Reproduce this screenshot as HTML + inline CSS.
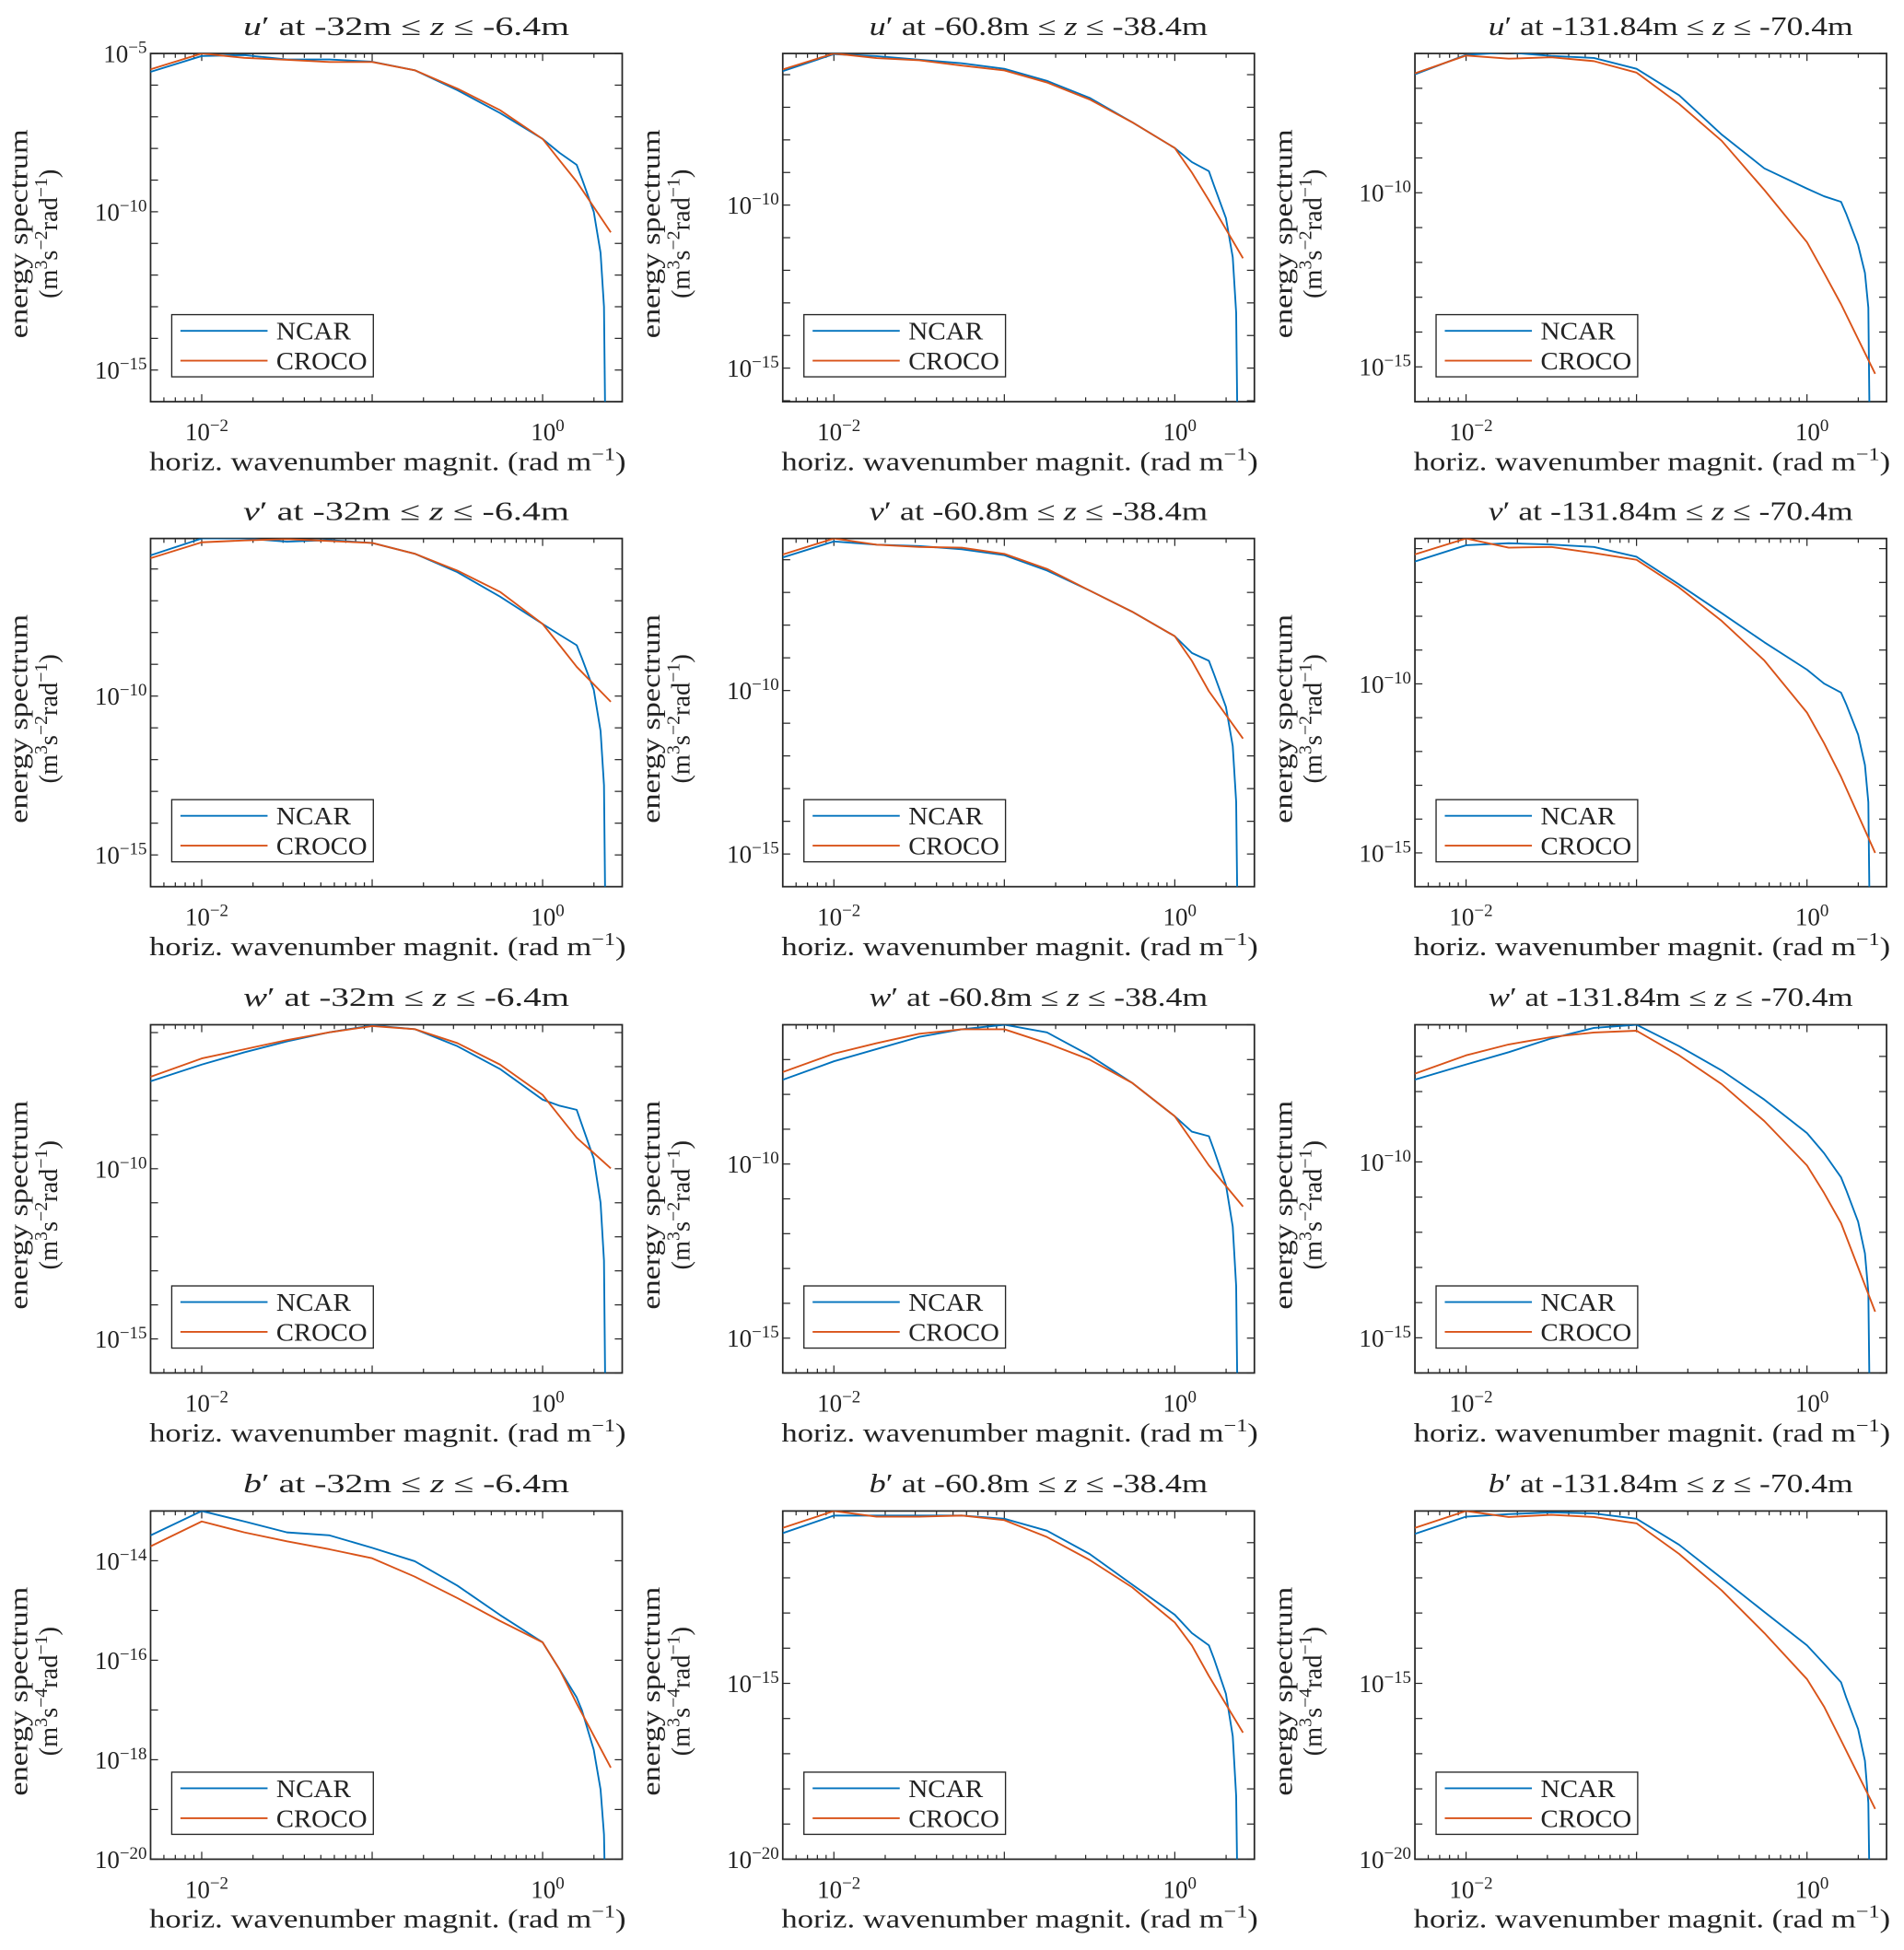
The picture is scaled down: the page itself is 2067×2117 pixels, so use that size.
<!DOCTYPE html>
<html><head><meta charset="utf-8"><style>
html,body{margin:0;padding:0;background:#fff}
svg{display:block}
text{font-family:"Liberation Serif",serif;fill:#222}
</style></head><body>
<svg id="fig" width="2067" height="2117" viewBox="0 0 1530 1568" preserveAspectRatio="none" xmlns="http://www.w3.org/2000/svg"></svg>
<script>
// shared wavenumber grids (log10 rad/m)
const kNcar = [-2.3,-2,-1.75,-1.5,-1.25,-1,-0.75,-0.5,-0.25,0,0.1,0.2,0.23,0.3,0.34,0.36,0.37];
const kCroco = [-2.3,-2,-1.75,-1.5,-1.25,-1,-0.75,-0.5,-0.25,0,0.1,0.2,0.4];
// log10 energy spectrum values, per panel
const ncarU1 = [-5.58,-5.08,-5.05,-5.19,-5.19,-5.26,-5.53,-6.16,-6.88,-7.7,-8.14,-8.52,-8.95,-10.0,-11.3,-13.0,-30];
const crocoU1 = [-5.5,-5.0,-5.14,-5.2,-5.27,-5.27,-5.53,-6.11,-6.79,-7.7,-8.38,-9.05,-10.65];
const ncarU2 = [-5.89,-5.37,-5.43,-5.54,-5.65,-5.82,-6.19,-6.71,-7.46,-8.25,-8.68,-8.96,-9.4,-10.4,-11.6,-13.3,-30];
const crocoU2 = [-5.84,-5.35,-5.49,-5.56,-5.72,-5.87,-6.24,-6.76,-7.46,-8.25,-9.0,-9.85,-11.63];
const ncarU3 = [-6.6,-6.04,-5.97,-6.07,-6.13,-6.44,-7.2,-8.33,-9.3,-9.88,-10.1,-10.26,-10.6,-11.5,-12.3,-13.3,-30];
const crocoU3 = [-6.57,-6.06,-6.15,-6.11,-6.22,-6.55,-7.45,-8.51,-9.92,-11.42,-12.3,-13.2,-15.2];
const ncarV1 = [-5.57,-5.04,-5.04,-5.14,-5.09,-5.18,-5.52,-6.1,-6.87,-7.73,-8.07,-8.4,-8.8,-9.8,-11.1,-12.8,-30];
const crocoV1 = [-5.66,-5.16,-5.1,-5.06,-5.12,-5.18,-5.52,-6.05,-6.72,-7.73,-8.4,-9.08,-10.18];
const ncarV2 = [-5.93,-5.44,-5.54,-5.58,-5.68,-5.86,-6.33,-6.94,-7.59,-8.34,-8.85,-9.09,-9.5,-10.5,-11.7,-13.4,-30];
const crocoV2 = [-5.84,-5.35,-5.54,-5.61,-5.63,-5.82,-6.28,-6.94,-7.59,-8.34,-9.09,-10.02,-11.47];
const ncarV3 = [-6.38,-5.9,-5.84,-5.88,-5.95,-6.24,-7.06,-7.91,-8.77,-9.58,-9.99,-10.26,-10.6,-11.5,-12.4,-13.5,-30];
const crocoV3 = [-6.17,-5.7,-5.97,-5.95,-6.13,-6.33,-7.15,-8.14,-9.31,-10.85,-11.75,-12.75,-15.0];
const ncarW1 = [-7.43,-6.94,-6.58,-6.26,-5.99,-5.79,-5.9,-6.4,-7.07,-7.97,-8.15,-8.27,-8.7,-9.7,-11.0,-12.7,-30];
const crocoW1 = [-7.3,-6.76,-6.49,-6.22,-5.99,-5.81,-5.9,-6.31,-6.94,-7.83,-8.46,-9.09,-9.99];
const ncarW2 = [-7.58,-7.05,-6.7,-6.35,-6.13,-6.0,-6.22,-6.88,-7.67,-8.63,-9.07,-9.2,-9.6,-10.6,-11.8,-13.5,-30];
const crocoW2 = [-7.36,-6.83,-6.53,-6.26,-6.13,-6.13,-6.53,-7.0,-7.67,-8.63,-9.33,-10.04,-11.22];
const ncarW3 = [-7.66,-7.23,-6.88,-6.49,-6.19,-6.1,-6.71,-7.4,-8.23,-9.18,-9.75,-10.44,-10.8,-11.7,-12.6,-13.7,-30];
const crocoW3 = [-7.49,-6.97,-6.66,-6.45,-6.32,-6.27,-6.97,-7.79,-8.84,-10.1,-10.88,-11.74,-14.26];
const ncarB1 = [-13.49,-13.0,-13.21,-13.43,-13.49,-13.74,-14.01,-14.5,-15.09,-15.64,-16.19,-16.75,-17.0,-17.8,-18.6,-19.5,-30];
const crocoB1 = [-13.71,-13.21,-13.43,-13.61,-13.77,-13.95,-14.32,-14.75,-15.21,-15.64,-16.19,-16.87,-18.16];
const ncarB2 = [-10.73,-10.23,-10.23,-10.23,-10.23,-10.32,-10.66,-11.32,-12.19,-13.05,-13.57,-13.92,-14.3,-15.3,-16.5,-18.2,-30];
const crocoB2 = [-10.58,-10.1,-10.26,-10.26,-10.23,-10.36,-10.84,-11.49,-12.27,-13.27,-13.92,-14.79,-16.4];
const ncarB3 = [-10.75,-10.26,-10.19,-10.14,-10.17,-10.32,-11.06,-12.01,-12.97,-13.92,-14.44,-14.97,-15.4,-16.3,-17.2,-18.4,-30];
const crocoB3 = [-10.58,-10.1,-10.27,-10.21,-10.27,-10.45,-11.32,-12.36,-13.57,-14.88,-15.66,-16.62,-18.57];
// axis ranges (log10)
const xRange = [-2.3, 0.467];
const yRanges = [[-16,-5],[-16.03,-5.35],[-16,-6],[-16,-5.04],[-16,-5.35],[-16,-5.7],[-16,-5.77],[-16,-6.0],[-16,-6.1],[-20,-13],[-20,-10.1],[-20,-10.1]];
const yTickLabels = [[-5,-10,-15],[-10,-15],[-10,-15],[-10,-15],[-10,-15],[-10,-15],[-10,-15],[-10,-15],[-10,-15],[-14,-16,-18,-20],[-15,-20],[-15,-20]];
const varNames = ["u","v","w","b"];
const depthLabels = ["-32m","-60.8m","-131.84m"];
const depthTops = ["-6.4m","-38.4m","-70.4m"];
const unitsPow = ["−2","−2","−2","−4"];
const ncarSeries = [ncarU1,ncarU2,ncarU3,ncarV1,ncarV2,ncarV3,ncarW1,ncarW2,ncarW3,ncarB1,ncarB2,ncarB3];
const crocoSeries = [crocoU1,crocoU2,crocoU3,crocoV1,crocoV2,crocoV3,crocoW1,crocoW2,crocoW3,crocoB1,crocoB2,crocoB3];

const NS="http://www.w3.org/2000/svg";
const svg=document.getElementById('fig');
function mk(tag,attrs,parent){const e=document.createElementNS(NS,tag);for(const k in attrs)e.setAttribute(k,attrs[k]);(parent||svg).appendChild(e);return e;}
function sup(t,txt){const s=mk('tspan',{'baseline-shift':'super','font-size':'70%'},t);s.textContent=txt;return s;}
function span(t,txt,attrs){const s=mk('tspan',attrs||{},t);s.textContent=txt;return s;}

const colX=[121,629,1137], rowY=[43,433,824,1215], W=379, H=280;
const titleW=[262,272,293];
const defs=mk('defs',{});
for(let r=0;r<4;r++)for(let c=0;c<3;c++){
  const idx=r*3+c, x0=colX[c], y0=rowY[r], yr=yRanges[idx];
  const g=mk('g',{});
  
  
  const sx=v=>x0+(v-xRange[0])/(xRange[1]-xRange[0])*W;
  const sy=v=>y0+(yr[1]-v)/(yr[1]-yr[0])*H;
  const cp=mk('clipPath',{id:'cp'+idx},defs);
  mk('rect',{x:x0,y:y0,width:W,height:H},cp);
  const box=mk('rect',{x:x0,y:y0,width:W,height:H,fill:'#fff',stroke:'#262626','stroke-width':1.3},g);
  
  
  for(let d=-3;d<=0;d++)for(let m=1;m<=9;m++){
    const v=d+Math.log10(m); if(v<xRange[0]||v>xRange[1])continue;
    const L=m===1?6:3.5, xx=sx(v);
    mk('line',{x1:xx,x2:xx,y1:y0+H,y2:y0+H-L,stroke:'#262626','stroke-width':0.9},g);
    mk('line',{x1:xx,x2:xx,y1:y0,y2:y0+L,stroke:'#262626','stroke-width':0.9},g);
  }
  [-2,0].forEach(p=>{
    const t=mk('text',{x:sx(p)+4,y:y0+H+31,'text-anchor':'middle','font-size':20},g);
    
    
    span(t,'10');sup(t,p===0?'0':'−2');
  });
  for(let e=Math.ceil(yr[0]);e<=Math.floor(yr[1]);e++){
    const yy=sy(e);
    mk('line',{x1:x0,x2:x0+6,y1:yy,y2:yy,stroke:'#262626','stroke-width':0.9},g);
    mk('line',{x1:x0+W,x2:x0+W-6,y1:yy,y2:yy,stroke:'#262626','stroke-width':0.9},g);
  }
  yTickLabels[idx].forEach(e=>{
    const t=mk('text',{x:x0-3,y:sy(e)+7,'text-anchor':'end','font-size':20},g);
    
    
    span(t,'10');sup(t,'−'+(-e));
  });
  const cg=mk('g',{'clip-path':'url(#cp'+idx+')'},g);
  const pN=mk('polyline',{points:kNcar.map((k,i)=>sx(k)+','+Math.min(sy(ncarSeries[idx][i]),y0+H+50)).join(' '),fill:'none',stroke:'#0072BD','stroke-width':1.4,'stroke-linejoin':'round'},cg);
  
  
  const pC=mk('polyline',{points:kCroco.map((k,i)=>sx(k)+','+sy(crocoSeries[idx][i])).join(' '),fill:'none',stroke:'#D95319','stroke-width':1.4,'stroke-linejoin':'round'},cg);
  
  
  const lg=mk('g',{},g);
  
  
  const lx=x0+17, ly=y0+210;
  mk('rect',{x:lx,y:ly,width:162,height:50,fill:'#fff',stroke:'#262626','stroke-width':1},lg);
  mk('line',{x1:lx+7,x2:lx+77,y1:ly+13,y2:ly+13,stroke:'#0072BD','stroke-width':1.4},lg);
  mk('line',{x1:lx+7,x2:lx+77,y1:ly+37,y2:ly+37,stroke:'#D95319','stroke-width':1.4},lg);
  const t1=mk('text',{x:lx+84,y:ly+20,'font-size':20,textLength:60,lengthAdjust:'spacingAndGlyphs'},lg);t1.textContent='NCAR';
  
  
  const t2=mk('text',{x:lx+84,y:ly+44,'font-size':20,textLength:73,lengthAdjust:'spacingAndGlyphs'},lg);t2.textContent='CROCO';
  
  
  const tt=mk('text',{x:x0+W/2+16,y:y0-15,'text-anchor':'middle','font-size':21,textLength:titleW[c],lengthAdjust:'spacingAndGlyphs'},g);
  
  
  span(tt,varNames[r],{'font-style':'italic'});span(tt,'′ at '+depthLabels[c]+' ≤ ');span(tt,'z',{'font-style':'italic'});span(tt,' ≤ '+depthTops[c]);
  const xl=mk('text',{x:x0+W/2+1,y:y0+H+55,'text-anchor':'middle','font-size':21,textLength:383,lengthAdjust:'spacingAndGlyphs'},g);
  
  
  span(xl,'horiz.  wavenumber magnit.  (rad m');sup(xl,'−1');span(xl,')',{'baseline-shift':'0'});
  const cy=y0+H/2+5, lxp=x0-99;
  const yl=mk('text',{x:0,y:0,'text-anchor':'middle','font-size':21,textLength:168,lengthAdjust:'spacingAndGlyphs',transform:'translate('+lxp+','+cy+') rotate(-90)'},g);
  
  
  yl.textContent='energy spectrum';
  const yl2=mk('text',{x:0,y:0,'text-anchor':'middle','font-size':21,transform:'translate('+(lxp+24)+','+cy+') rotate(-90)'},g);
  
  
  span(yl2,'(m');sup(yl2,'3');span(yl2,'s',{'baseline-shift':'0'});sup(yl2,unitsPow[r]);span(yl2,'rad',{'baseline-shift':'0'});sup(yl2,'−1');span(yl2,')',{'baseline-shift':'0'});
}
</script>
</body></html>
